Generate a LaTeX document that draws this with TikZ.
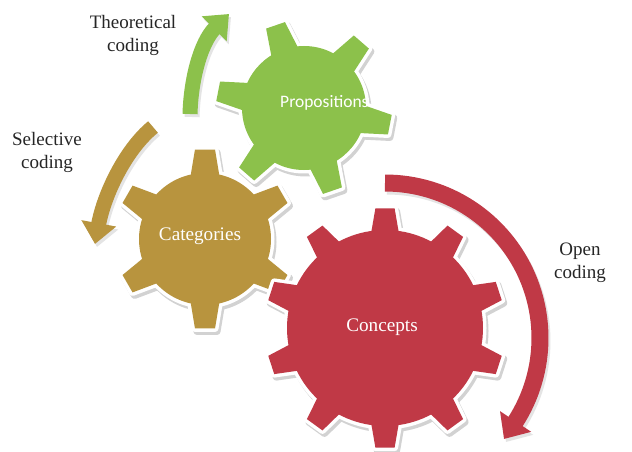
\documentclass[tikz,border=0pt]{standalone}
\usepackage{fontspec}
\setmainfont{Liberation Serif}
\newfontfamily\carlito{Carlito}
\usetikzlibrary{arrows.meta}
\definecolor{gearred}{HTML}{C03946}
\definecolor{geargold}{HTML}{B8943E}
\definecolor{geargreen}{HTML}{8CC14B}
\definecolor{shade}{HTML}{D2D2D2}
\definecolor{ashade}{HTML}{E4E4E4}

% one layer of a gear: #1,#2 centre, #3 teeth, #4 first tooth angle,
% #5 body radius, #6 tip radius, #7 base half angle, #8 tip half angle, #9 style
\newcommand\gearlayer[9]{%
  \path[#9] (#1,#2) circle[radius=#5];
  \foreach \k in {1,...,#3}{%
    \pgfmathsetmacro\ga{#4+(\k-1)*360/#3}%
    \path[#9] ({#1+(#5-3)*cos(\ga-#7)},{#2+(#5-3)*sin(\ga-#7)})
      -- ({#1+#6*cos(\ga-#8)},{#2+#6*sin(\ga-#8)})
      -- ({#1+#6*cos(\ga+#8)},{#2+#6*sin(\ga+#8)})
      -- ({#1+(#5-3)*cos(\ga+#7)},{#2+(#5-3)*sin(\ga+#7)}) -- cycle;
  }%
}
\newcommand\gearfull[9]{%
  \gearlayer{#1+2}{#2+3}{#3}{#4}{#5}{#6}{#7}{#8}{fill=shade,draw=shade,line width=7pt,line join=round}%
  \gearlayer{#1}{#2}{#3}{#4}{#5}{#6}{#7}{#8}{fill=white,draw=white,line width=7pt,line join=round}%
  \gearlayer{#1}{#2}{#3}{#4}{#5}{#6}{#7}{#8}{fill=#9}%
}

\tikzset{
  cyclearrow/.style={line width=15pt,-{Triangle[length=21pt,width=34pt]}},
  cyclelabel/.style={align=center,font=\fontsize{19}{23}\selectfont,text=black!85,inner sep=0pt},
  gearlabel/.style={text=white,font=\fontsize{19.2}{22}\selectfont,inner sep=0pt}
}

\begin{document}
\begin{tikzpicture}[x=1pt,y=-1pt]
\useasboundingbox (0,0) rectangle (632,452);
\fill[white] (0,0) rectangle (632,452);

% arrow shadows
\draw[cyclearrow,ashade,shift={(2,3)}] (190,114) .. controls (191,78) and (201,42) .. (229,14);
\draw[cyclearrow,ashade,shift={(2,3)}] (153,127) .. controls (125,150) and (104,195) .. (95,244);
\draw[cyclearrow,ashade,line width=17pt,-{Triangle[length=21pt,width=36pt]},shift={(2,3)}]
  plot[domain=-90:33,samples=60] ({385+155*cos(\x)},{338+155*sin(\x)}) -- (504,439);

% gears
\gearfull{205}{239}{6}{-90}{66}{90}{13.5}{6.4}{geargold}
\gearfull{304}{108}{6}{-109}{62}{88}{14}{6.5}{geargreen}
\gearfull{385}{328}{10}{-90}{98}{120}{8.5}{4.6}{gearred}

% arrows
\coordinate (thS) at (190,114);
\coordinate (thE) at (229,14);
\coordinate (seS) at (153,127);
\coordinate (seE) at (95,244);
\coordinate (opE) at (504,439);
\draw[cyclearrow,geargreen] (thS) .. controls (191,78) and (201,42) .. (thE);
\draw[cyclearrow,geargold] (seS) .. controls (125,150) and (104,195) .. (seE);
\draw[cyclearrow,gearred,line width=17pt,-{Triangle[length=21pt,width=36pt]}]
  plot[domain=-90:33,samples=60] ({385+155*cos(\x)},{338+155*sin(\x)}) -- (opE);

% gear labels
\node[gearlabel] (categories) at (200,236) {Categories};
\node[gearlabel] (concepts) at (382,327) {Concepts};
\node[gearlabel,font=\carlito\fontsize{17.5}{20}\selectfont,anchor=west] (propositions) at (280,103) {Propositions};

% cycle labels
\node[cyclelabel] (theoretical) at (133,35) {Theoretical\\coding};
\node[cyclelabel] (selective) at (47,152) {Selective\\coding};
\node[cyclelabel] (open) at (580,263) {Open\\coding};
\end{tikzpicture}
\end{document}
